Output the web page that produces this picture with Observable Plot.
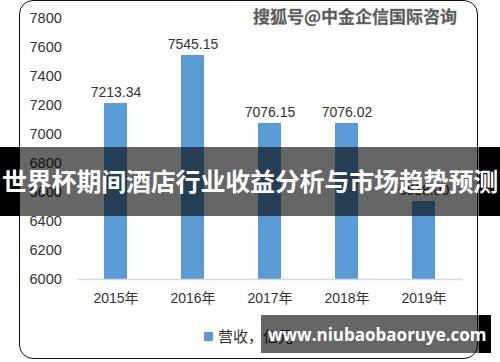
<!DOCTYPE html>
<html><head><meta charset="utf-8">
<script src="https://cdn.jsdelivr.net/npm/d3@7"></script>
<script src="https://cdn.jsdelivr.net/npm/@observablehq/plot@0.6"></script>
<style>
body{margin:0;background:#fff;}
#wrap{position:relative;width:500px;height:362px;overflow:hidden;font-family:"Liberation Sans","Noto Sans CJK SC",sans-serif;}
.abs{position:absolute;}
</style></head>
<body><div id="wrap"></div>
<script>
const years = ["2015年","2016年","2017年","2018年","2019年"];
const revenue = [7213.34, 7545.15, 7076.15, 7076.02, 6538];
const yTicks = [6000,6200,6400,6600,6800,7000,7200,7400,7600,7800];
const legendLabel = "营收，亿元";
const bannerText = "世界杯期间酒店行业收益分析与市场趋势预测";
const sourceText = "搜狐号@中金企信国际咨询";
const siteText = "www.niubaobaoruye.com";

const data = years.map((y,i)=>({year:y, value:revenue[i]}));
const ink = "#333";
const chart = Plot.plot({
  width:500, height:362,
  marginLeft:77, marginRight:37, marginTop:18, marginBottom:83,
  style:{fontFamily:'"Liberation Sans","Noto Sans CJK SC",sans-serif', fontSize:"14px", color:ink, background:"transparent"},
  x:{domain:years, paddingInner:0.7, paddingOuter:0.35, label:null},
  y:{domain:[6000,7800], label:null},
  marks:[
    Plot.barY(data,{x:"year", y1:6000, y2:"value", fill:"#5b9bd5"}),
    Plot.ruleY([6000],{stroke:"#d9d9d9", strokeWidth:1.5}),
    Plot.text(data,{x:"year", y:"value", text:d=>d.value.toFixed(2), dy:-11, fill:ink, fontSize:14}),
    Plot.axisY({ticks:yTicks, tickFormat:d=>String(d), tickSize:0, tickPadding:0, dx:-48, textAnchor:"start", fontSize:14.5, label:null}),
    Plot.axisX({tickSize:0, tickPadding:14, fontSize:14, label:null})
  ]
});
const wrap = document.getElementById("wrap");
chart.style.position="absolute"; chart.style.left="0"; chart.style.top="0";
wrap.appendChild(chart);

function div(css, html){const d=document.createElement("div");d.className="abs";d.style.cssText=css;if(html!==undefined)d.textContent=html;wrap.appendChild(d);return d;}
// legend
div("left:204px;top:332px;width:9px;height:9px;background:#5b9bd5;");
div("left:218px;top:326px;font-size:15px;color:#333;font-family:'Noto Sans CJK SC',sans-serif;line-height:20px;white-space:nowrap;", legendLabel);
// frame
div("left:19px;top:0px;width:459px;height:359px;border:1.5px solid #111;border-radius:14px;box-sizing:border-box;");
// top-right source watermark
div("left:253px;top:4px;font-size:17px;font-weight:bold;color:#555;font-family:'Noto Sans CJK SC',sans-serif;line-height:24px;white-space:nowrap;-webkit-text-stroke:0.3px #888;text-shadow:0 0 2px #fff,0 0 2px #fff;", sourceText);
// banner
div("left:0;top:147px;width:19px;height:69px;background:#000;");
div("left:19px;top:147px;width:460px;height:69px;background:rgba(0,0,0,0.6);");
div("left:479px;top:147px;width:21px;height:69px;background:#000;");
div("left:-10px;top:163px;width:520px;text-align:center;font-size:25px;font-weight:bold;color:#fff;font-family:'Noto Sans CJK SC',sans-serif;line-height:34px;white-space:nowrap;letter-spacing:-0.2px;", bannerText);
// bottom site box
div("left:261px;top:315px;width:218px;height:38px;background:rgba(0,0,0,0.6);");
div("left:479px;top:315px;width:12px;height:38px;background:#000;");
div("left:268px;top:323px;width:216px;text-align:center;font-size:17px;font-weight:bold;color:#fff;font-family:'Open Sans',sans-serif;line-height:24px;white-space:nowrap;", siteText);
</script></body></html>
